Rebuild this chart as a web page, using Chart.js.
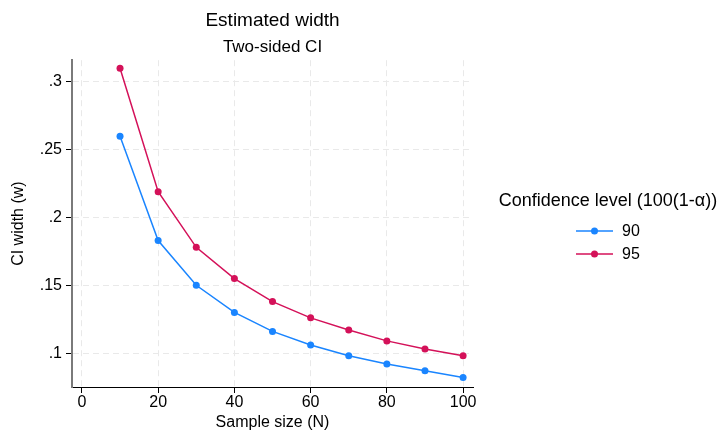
<!DOCTYPE html>
<html>
<head>
<meta charset="utf-8">
<script src="https://cdn.jsdelivr.net/npm/chart.js@4"></script>
<style>
  body { margin: 0; background: #fff; }
</style>
</head>
<body>
<canvas id="myChart" width="718" height="432"></canvas>
<script>
const sampleSizes = [10, 20, 30, 40, 50, 60, 70, 80, 90, 100];
const width90 = [0.260, 0.183, 0.150, 0.130, 0.116, 0.106, 0.098, 0.092, 0.087, 0.082];
const width95 = [0.310, 0.219, 0.178, 0.155, 0.138, 0.126, 0.117, 0.109, 0.103, 0.098];
const seriesNames = ['90', '95'];
const xTicks = [0, 20, 40, 60, 80, 100];
const yTicks = [0.1, 0.15, 0.2, 0.25, 0.3];
const yTickLabels = ['.1', '.15', '.2', '.25', '.3'];

Chart.defaults.font.family = '"Liberation Sans", Arial, sans-serif';
Chart.defaults.color = '#000';

const blue = '#1a85ff';
const red = '#d41159';

function toPoints(vals) {
  return sampleSizes.map((n, i) => ({ x: n, y: vals[i] }));
}

// legend drawn by hand on the right
const sideLegend = {
  id: 'sideLegend',
  afterDraw(chart) {
    const c = chart.ctx;
    const cx = 608;
    c.save();
    c.fillStyle = '#000';
    c.textBaseline = 'middle';
    c.textAlign = 'center';
    c.font = '18px "Liberation Sans", Arial, sans-serif';
    c.fillText('Confidence level (100(1-\u03b1))', cx, 201);
    c.font = '16px "Liberation Sans", Arial, sans-serif';
    chart.data.datasets.forEach((ds, i) => {
      const y = 231 + i * 23;
      c.strokeStyle = ds.borderColor;
      c.lineWidth = 1.5;
      c.beginPath();
      c.moveTo(576, y);
      c.lineTo(613, y);
      c.stroke();
      c.fillStyle = ds.borderColor;
      c.beginPath();
      c.arc(594.5, y, 3.5, 0, Math.PI * 2);
      c.fill();
      c.fillStyle = '#000';
      c.textAlign = 'left';
      c.fillText(ds.label, 622, y + 1);
    });
    c.restore();
  }
};

const ctx = document.getElementById('myChart');

new Chart(ctx, {
  type: 'line',
  data: {
    datasets: [{
      label: seriesNames[0],
      data: toPoints(width90),
      borderColor: blue,
      backgroundColor: blue,
      borderWidth: 1.5,
      pointRadius: 3.5,
      pointBorderWidth: 0
    }, {
      label: seriesNames[1],
      data: toPoints(width95),
      borderColor: red,
      backgroundColor: red,
      borderWidth: 1.5,
      pointRadius: 3.5,
      pointBorderWidth: 0
    }]
  },
  options: {
    responsive: false,
    animation: false,
    layout: { padding: { left: 0, right: 245, top: 0, bottom: 0 } },
    plugins: {
      legend: { display: false },
      tooltip: { enabled: false },
      title: {
        display: true,
        text: 'Estimated width',
        fullSize: false,
        font: { size: 19, weight: 'normal' },
        padding: { top: 9, bottom: 0 }
      },
      subtitle: {
        display: true,
        text: 'Two-sided CI',
        fullSize: false,
        font: { size: 17 },
        padding: { top: 5, bottom: 3 }
      }
    },
    scales: {
      x: {
        type: 'linear',
        min: -2.6,
        max: 102.6,
        afterBuildTicks: (s) => { s.ticks = xTicks.map(v => ({ value: v })); },
        afterFit: (s) => { s.height = 45; },
        ticks: { font: { size: 16 }, padding: 0, maxRotation: 0 },
        grid: {
          color: '#e9e9e9',
          tickColor: '#000',
          tickLength: 6,
          tickBorderDash: [],
          lineWidth: 1
        },
        border: { color: '#000', width: 1, dash: [6, 4] },
        title: { display: true, text: 'Sample size (N)', font: { size: 16 }, padding: { top: 0, bottom: 0 } }
      },
      y: {
        min: 0.075,
        max: 0.316,
        afterBuildTicks: (s) => { s.ticks = yTicks.map(v => ({ value: v })); },
        afterFit: (s) => { s.width = 72; },
        ticks: {
          font: { size: 16 },
          padding: 4,
          callback: (v) => yTickLabels[yTicks.findIndex(t => Math.abs(t - v) < 1e-9)]
        },
        grid: {
          color: '#e9e9e9',
          tickColor: '#000',
          tickLength: 6,
          tickBorderDash: [],
          lineWidth: 1
        },
        border: { color: '#7a7a7a', width: 2, dash: [6, 4] },
        title: { display: true, text: 'CI width (w)', font: { size: 16 }, padding: { top: 9, bottom: 0 } }
      }
    }
  },
  plugins: [sideLegend]
});
</script>
</body>
</html>
